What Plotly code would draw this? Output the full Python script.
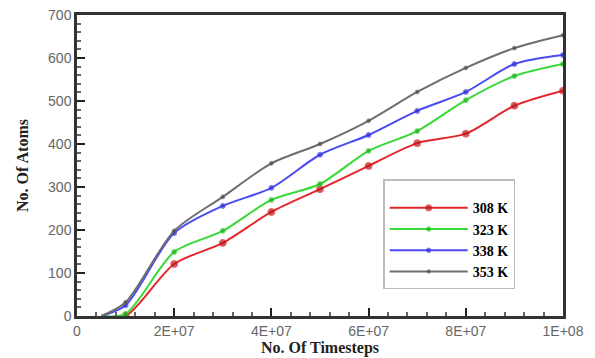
import plotly.graph_objects as go

timesteps = [5e6, 1e7, 2e7, 3e7, 4e7, 5e7, 6e7, 7e7, 8e7, 9e7, 1e8]
atoms_308 = [0, 0, 121, 170, 242, 295, 349, 402, 424, 489, 524]
atoms_323 = [0, 5, 149, 198, 270, 307, 384, 430, 502, 558, 586]
atoms_338 = [0, 25, 193, 256, 298, 375, 421, 477, 521, 586, 607]
atoms_353 = [0, 32, 198, 277, 355, 400, 454, 521, 577, 623, 653]
labels = ["308 K", "323 K", "338 K", "353 K"]
x_tickvals = [0, 2e7, 4e7, 6e7, 8e7, 1e8]
x_ticktext = ["0", "2E+07", "4E+07", "6E+07", "8E+07", "1E+08"]

series = [atoms_308, atoms_323, atoms_338, atoms_353]
colors = ["#e3262b", "#36d936", "#4b4bf5", "#6e6e6e"]
mcolors = ["#b5141a", "#1fa81f", "#2c2cc8", "#444444"]
msizes = [7, 5, 5, 4]

fig = go.Figure()
for lab, ys, c, mc, ms in zip(labels, series, colors, mcolors, msizes):
    sizes = [0] + [ms] * (len(timesteps) - 1)
    fig.add_trace(go.Scatter(
        x=timesteps, y=ys, name="<b>" + lab + "</b>", mode="lines+markers",
        line=dict(color=c, width=2, shape="spline", smoothing=0.8),
        marker=dict(color=mc, size=sizes, symbol="circle"),
    ))

fig.update_layout(
    width=595, height=358,
    margin=dict(l=69, r=40, t=7, b=50),
    paper_bgcolor="white", plot_bgcolor="white",
    showlegend=True,
    legend=dict(
        x=0.63, y=0.455, xanchor="left", yanchor="top",
        bordercolor="#bbbbbb", borderwidth=1.5, bgcolor="white",
        font=dict(family="Liberation Serif", size=14, color="black"),
        title=dict(text=" ", font=dict(size=9)),
        itemwidth=78, tracegroupgap=0,
    ),
    font=dict(family="Liberation Sans", size=13, color="#555555"),
)
fig.update_xaxes(
    range=[0, 1e8], tickvals=x_tickvals, ticktext=x_ticktext,
    automargin=False, ticklabeloverflow="allow",
    ticks="inside", ticklen=8, tickwidth=2, tickcolor="#222222",
    minor=dict(dtick=4e6, ticks="inside", ticklen=4, tickcolor="#666666"),
    showline=True, linewidth=2.5, linecolor="#333333", mirror=True,
    showgrid=False, zeroline=False,
    title=dict(text="<b>No. Of Timesteps</b>", standoff=3,
               font=dict(family="Liberation Serif", size=16, color="#222222")),
    tickfont=dict(family="Liberation Sans", size=14, color="#666666"),
)
fig.update_yaxes(
    range=[0, 700], dtick=100,
    automargin=False, ticklabeloverflow="allow",
    ticks="inside", ticklen=8, tickwidth=2, tickcolor="#222222",
    minor=dict(dtick=20, ticks="inside", ticklen=4, tickcolor="#666666"),
    showline=True, linewidth=2.5, linecolor="#333333", mirror=True,
    showgrid=False, zeroline=False,
    title=dict(text="<b>No. Of Atoms</b>", standoff=16,
               font=dict(family="Liberation Serif", size=16, color="#222222")),
    tickfont=dict(family="Liberation Sans", size=14, color="#666666"),
)

fig.write_html("out.html")
